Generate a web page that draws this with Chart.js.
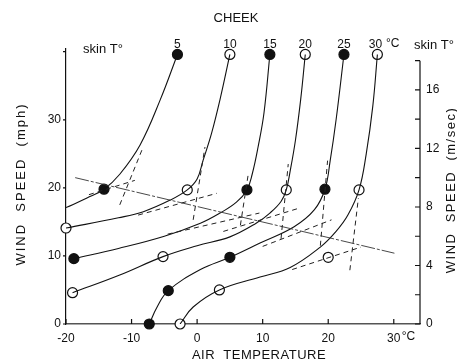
<!DOCTYPE html>
<html>
<head>
<meta charset="utf-8">
<script src="https://cdn.jsdelivr.net/npm/chart.js@4.4.0/dist/chart.umd.min.js"></script>
<style>
  body { margin: 0; background: #fff; }
  #wrap { width: 457px; height: 363px; }
</style>
</head>
<body>
<div id="wrap"><canvas id="chart"></canvas></div>
<script>
// skin temperature isolines: [air temperature °C, wind speed mph]
const skinTemps = [5, 10, 15, 20, 25, 30];
const curve5 = [[-20, 17.1], [-16.8, 18.5], [-14.2, 19.8], [-11.8, 22], [-8.7, 26.3], [-5.6, 33], [-3, 39.6]];
const curve10 = [[-20, 14.1], [-12, 15.6], [-8.2, 16.5], [-4.1, 18.2], [-1.5, 19.7], [0, 21.3], [0.9, 24], [2.2, 28], [3.5, 33], [5, 39.6]];
const curve15 = [[-18.8, 9.6], [-12, 11.1], [-5, 12.9], [0.5, 14.8], [3.5, 16.3], [6, 17.9], [7.6, 19.7], [8.4, 22], [9.3, 26], [10.2, 31], [11.1, 39.6]];
const curve20 = [[-19, 4.6], [-11.8, 7.2], [-5.2, 9.9], [0, 11.5], [5, 12.8], [9, 14.8], [11.1, 16.3], [12.8, 18], [13.6, 19.7], [14.2, 22.5], [15, 27], [15.8, 33], [16.5, 39.6]];
const curve25 = [[-7.3, 0], [-6.1, 2.5], [-4.4, 4.9], [0.5, 8], [5, 9.8], [9.6, 11.9], [14.8, 14.3], [17.9, 16.8], [19.5, 19.8], [20.3, 24], [21.2, 30], [22.4, 39.6]];
const curve30 = [[-2.6, 0], [-0.6, 2.5], [3.4, 5], [9.6, 6.9], [14.2, 8.3], [18.8, 11.3], [21.2, 13.6], [23, 16], [24.7, 19.7], [25.8, 25], [26.8, 32], [27.5, 39.6]];
const curves = [curve5, curve10, curve15, curve20, curve25, curve30];

const filledMarks = [[-3, 39.6], [-14.2, 19.8], [11.1, 39.6], [7.6, 19.7], [-18.8, 9.6],
  [22.4, 39.6], [19.5, 19.8], [5, 9.8], [-4.4, 4.9], [-7.3, 0]];
const openMarks = [[5, 39.6], [-1.5, 19.7], [-20, 14.1], [16.5, 39.6], [13.6, 19.7], [-5.2, 9.9], [-19, 4.6],
  [27.5, 39.6], [24.7, 19.7], [20, 9.8], [3.4, 5], [-2.6, 0]];

// dashed asymptotes, one steep and one shallow for each skin temperature
const steepDash = [
  [[-11.8, 17.5], [-8.4, 25.6]],
  [[-0.6, 15.3], [1.2, 26]],
  [[6.6, 14.5], [7.8, 22]],
  [[12.8, 12.5], [13.9, 23.5]],
  [[18.8, 11.5], [19.9, 24]],
  [[23.3, 7.9], [24.6, 18.5]]
];
const shallowDash = [
  [[-16.5, 19.0], [-9.5, 21.1]],
  [[-9, 16], [3, 19.2]],
  [[-4.5, 13.2], [9.5, 16.3]],
  [[4, 13.6], [15.5, 17.0]],
  [[10, 11.4], [20.5, 15.3]],
  [[14.5, 8.0], [25, 11.3]]
];
const refLine = [[-18.6, 21.5], [30.1, 10.4]];

const xTicks = [-20, -10, 0, 10, 20, 30];
const mphTicks = [0, 10, 20, 30, 40];
const msTicks = [0, 2, 4, 6, 8, 10, 12, 14, 16, 18];
const msLabels = [0, 4, 8, 12, 16];

const pts = arr => arr.map(p => ({ x: p[0], y: p[1] }));
const ink = '#111';

let datasets = [];
steepDash.concat(shallowDash).forEach(seg => {
  datasets.push({ data: pts(seg), showLine: true, borderColor: '#222', borderWidth: 1,
    borderDash: [5, 4], pointRadius: 0 });
});
datasets.push({ data: pts(refLine), showLine: true, borderColor: '#333', borderWidth: 0.9,
  borderDash: [14, 2, 3, 2], pointRadius: 0 });
curves.forEach(c => {
  datasets.push({ data: pts(c), showLine: true, borderColor: ink, borderWidth: 1.1,
    tension: 0.4, pointRadius: 0 });
});
datasets.push({ data: pts(openMarks), showLine: false, pointRadius: 5, pointBackgroundColor: '#fff',
  pointBorderColor: ink, pointBorderWidth: 1.2, clip: false });
datasets.push({ data: pts(filledMarks), showLine: false, pointRadius: 5, pointBackgroundColor: ink,
  pointBorderColor: ink, pointBorderWidth: 1.2, clip: false });

const tickFont = { family: 'Liberation Sans', size: 12 };

const decor = {
  id: 'decor',
  afterDraw(chart) {
    const { ctx, scales: { x, y, y1 } } = chart;
    ctx.save();
    ctx.strokeStyle = ink;
    ctx.fillStyle = ink;
    ctx.lineWidth = 1.2;
    ctx.beginPath();
    // right axis in m/sec
    const rx = x.right;
    ctx.moveTo(rx, y1.getPixelForValue(0));
    ctx.lineTo(rx, y1.getPixelForValue(18));
    msTicks.forEach(v => {
      const py = y1.getPixelForValue(v);
      ctx.moveTo(rx - 5, py); ctx.lineTo(rx, py);
    });
    xTicks.forEach(v => {
      const px = x.getPixelForValue(v);
      ctx.moveTo(px, y.bottom); ctx.lineTo(px, y.bottom - 5);
    });
    mphTicks.forEach(v => {
      const py = y.getPixelForValue(v);
      ctx.moveTo(x.left - 3, py); ctx.lineTo(x.left, py);
    });
    ctx.stroke();

    ctx.textAlign = 'center';
    ctx.textBaseline = 'middle';
    ctx.font = '13px "Liberation Sans"';
    ctx.fillText('CHEEK', 236, 18);
    ctx.fillText('skin T°', 103, 49);
    ctx.fillText('skin T°', 434, 45);
    // skin temperature labels over the top markers
    ctx.font = '12px "Liberation Sans"';
    curves.forEach((c, i) => {
      const px = x.getPixelForValue(c[c.length - 1][0]);
      ctx.fillText(String(skinTemps[i]), i === 5 ? px - 2 : px, 45);
    });
    ctx.textAlign = 'left';
    ctx.fillText('°C', 386, 44);
    ctx.fillText('°C', x.getPixelForValue(30) + 8, 337);

    ctx.textAlign = 'center';
    ctx.font = '13px "Liberation Sans"';
    ctx.letterSpacing = '0.5px';
    ctx.fillText('AIR  TEMPERATURE', 259, 355);
    ctx.letterSpacing = '2px';
    ctx.save();
    ctx.translate(21, 184);
    ctx.rotate(-Math.PI / 2);
    ctx.fillText('WIND  SPEED  (mph)', 0, 0);
    ctx.restore();
    ctx.letterSpacing = '1.5px';
    ctx.save();
    ctx.translate(451, 190);
    ctx.rotate(-Math.PI / 2);
    ctx.fillText('WIND  SPEED  (m/sec)', 0, 0);
    ctx.restore();
    ctx.restore();
  }
};

new Chart(document.getElementById('chart'), {
  type: 'scatter',
  data: { datasets: datasets },
  options: {
    responsive: true,
    maintainAspectRatio: false,
    animation: false,
    layout: { padding: { top: 49 } },
    plugins: { legend: { display: false }, tooltip: { enabled: false } },
    scales: {
      x: {
        type: 'linear', min: -20, max: 34,
        afterFit: s => { s.height = 39; },
        grid: { display: false, drawTicks: false },
        border: { display: true, color: '#555', width: 1.5 },
        ticks: { stepSize: 10, padding: 7, autoSkip: false, maxRotation: 0, color: ink, font: tickFont,
          callback: v => xTicks.includes(v) ? String(v) : '' }
      },
      y: {
        type: 'linear', position: 'left', min: 0, max: 40.4,
        afterFit: s => { s.width = 66; },
        grid: { display: false, drawTicks: false },
        border: { display: true, color: ink, width: 1.2 },
        ticks: { stepSize: 10, padding: 5, autoSkip: false, color: ink, font: tickFont,
          callback: v => mphTicks.includes(v) ? String(v) : '' }
      },
      y1: {
        type: 'linear', position: 'right', min: 0, max: 18.8,
        afterFit: s => { s.width = 37; },
        grid: { display: false, drawTicks: false },
        border: { display: false },
        ticks: { stepSize: 2, padding: 6, autoSkip: false, color: ink, font: tickFont,
          callback: v => msLabels.includes(v) ? String(v) : '' }
      }
    }
  },
  plugins: [decor]
});
</script>
</body>
</html>
